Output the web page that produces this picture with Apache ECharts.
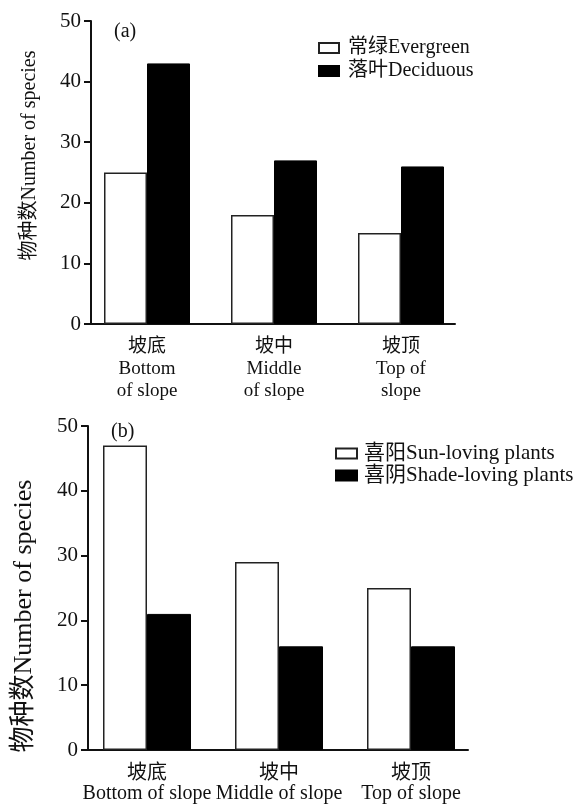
<!DOCTYPE html>
<html><head><meta charset="utf-8">
<script src="https://cdn.jsdelivr.net/npm/echarts@6/dist/echarts.min.js"></script>
<style>html,body{margin:0;padding:0;background:#fff}#c{width:588px;height:805px}</style>
</head><body><div id="c"></div>
<script>
var catsA = ['坡底\nBottom\nof slope', '坡中\nMiddle\nof slope', '坡顶\nTop of\nslope'];
var catsB = ['坡底\nBottom of slope', '坡中\nMiddle of slope', '坡顶\nTop of slope'];
var evergreen = [25, 18, 15];
var deciduous = [43, 27, 26];
var sunLoving = [47, 29, 25];
var shadeLoving = [21, 16, 16];
var nameA1 = '常绿Evergreen', nameA2 = '落叶Deciduous';
var nameB1 = '喜阳Sun-loving plants', nameB2 = '喜阴Shade-loving plants';
var yTitle = '物种数Number of species';

var FF = "'Liberation Serif', 'Noto Sans CJK SC', serif";
var INK = '#111';
var whiteStyle = { color: '#fff', borderColor: '#222', borderWidth: 1.5 };
var blackStyle = { color: '#000', borderColor: '#000', borderWidth: 1 };

function barAxis(gi, cats, margin, size, lh) {
  return { type: 'category', gridIndex: gi, data: cats,
    axisLine: { show: false }, axisTick: { show: false },
    axisLabel: { interval: 0, margin: margin, color: INK, fontFamily: FF, fontSize: size, lineHeight: lh } };
}
function lineAxis(gi, cats) {
  return { type: 'category', gridIndex: gi, data: cats,
    axisLine: { lineStyle: { color: INK, width: 2 } }, axisTick: { show: false }, axisLabel: { show: false } };
}
function hiddenY(gi) { return { type: 'value', gridIndex: gi, min: 0, max: 50, show: false }; }
function shownY(gi, gap, pad, size) {
  return { type: 'value', gridIndex: gi, min: 0, max: 50, interval: 10,
    name: yTitle, nameLocation: 'middle', nameGap: gap, nameRotate: 90,
    nameTextStyle: { color: INK, fontFamily: FF, fontSize: size, padding: pad },
    axisLine: { show: true, lineStyle: { color: INK, width: 2 } },
    axisTick: { show: true, length: 7, lineStyle: { color: INK, width: 2 } },
    splitLine: { show: false },
    axisLabel: { color: INK, fontFamily: FF, fontSize: 21, margin: 10 } };
}
function grid(l, w, t, h) {
  return { left: l, width: w, top: t, height: h, containLabel: false, outerBoundsMode: 'none' };
}

var chart = echarts.init(document.getElementById('c'));
chart.setOption({
  animation: false,
  backgroundColor: '#fff',
  title: [
    { text: '(a)', left: 109, top: 17, textStyle: { fontFamily: FF, fontSize: 20, fontWeight: 'normal', color: INK } },
    { text: '(b)', left: 106, top: 417, textStyle: { fontFamily: FF, fontSize: 20, fontWeight: 'normal', color: INK } }
  ],
  legend: [
    { data: [nameA1, nameA2], orient: 'vertical', left: 313, top: 33, itemWidth: 20, itemHeight: 10, itemGap: 3,
      icon: 'rect', textStyle: { fontFamily: FF, fontSize: 20, lineHeight: 20, color: INK, padding: [0, 0, 0, 4] } },
    { data: [nameB1, nameB2], orient: 'vertical', left: 330, top: 438, itemWidth: 21, itemHeight: 10, itemGap: 1,
      icon: 'rect', textStyle: { fontFamily: FF, fontSize: 21, lineHeight: 21, color: INK, padding: [0, 0, 0, 2] } }
  ],
  grid: [
    grid(83.5, 381, 21, 303),
    grid(91, 364, 21, 303),
    grid(81, 396, 426, 324),
    grid(88, 380, 426, 324)
  ],
  xAxis: [ barAxis(0, catsA, 12, 19, 22), lineAxis(1, catsA), barAxis(2, catsB, 14, 20, 20), lineAxis(3, catsB) ],
  yAxis: [ hiddenY(0), shownY(1, 51, [0, 0, 0, 34], 20), hiddenY(2), shownY(3, 51, [0, 56, 0, 0], 26) ],
  series: [
    { name: nameA1, type: 'bar', xAxisIndex: 0, yAxisIndex: 0, data: evergreen, barWidth: 43, barGap: '0%', itemStyle: whiteStyle },
    { name: nameA2, type: 'bar', xAxisIndex: 0, yAxisIndex: 0, data: deciduous, barWidth: 43, barGap: '0%', itemStyle: blackStyle },
    { name: nameB1, type: 'bar', xAxisIndex: 2, yAxisIndex: 2, data: sunLoving, barWidth: 44, barGap: '0%', itemStyle: whiteStyle },
    { name: nameB2, type: 'bar', xAxisIndex: 2, yAxisIndex: 2, data: shadeLoving, barWidth: 44, barGap: '0%', itemStyle: blackStyle }
  ]
});
</script></body></html>
